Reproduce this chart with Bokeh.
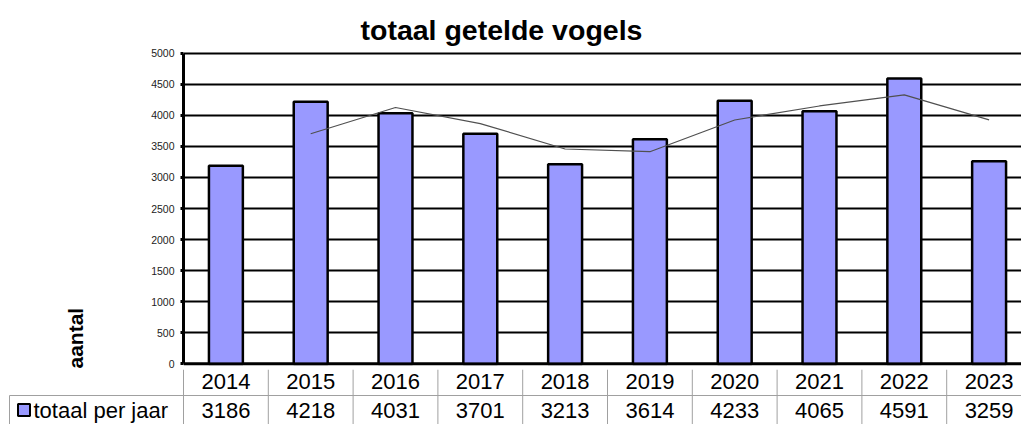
from bokeh.plotting import figure
from bokeh.models import Range1d, FixedTicker, Span, Title
from bokeh.embed import file_html
from bokeh.resources import INLINE
from bokeh.core.properties import value

# ---- data ----
years = ["2014", "2015", "2016", "2017", "2018", "2019", "2020", "2021", "2022", "2023"]
totals = [3186, 4218, 4031, 3701, 3213, 3614, 4233, 4065, 4591, 3259]
trend_years = ["2015", "2016", "2017", "2018", "2019", "2020", "2021", "2022", "2023"]
trend_values = [3702, 4124.5, 3866, 3457, 3413.5, 3923.5, 4149, 4328, 3925]
y_ticks = [0, 500, 1000, 1500, 2000, 2500, 3000, 3500, 4000, 4500, 5000]
title_text = "totaal getelde vogels"
y_label = "aantal"
series_label = "totaal per jaar"

# ---- style / layout ----
FONT = "Liberation Sans"
BAR = "#9999FF"
GRIDC = "#A0A0A0"
W = 1021
CAT_W = 84.8            # px per category
LEFT = 183              # px left of the plot area
TOP = 51
FRAME_BOTTOM = 365
BOTTOM_PAD = 4
H1 = FRAME_BOTTOM + BOTTOM_PAD
H2 = 424 - H1
ROW_H = 29
x_end = (W - LEFT) / CAT_W
y_lo, y_hi = -25, 5025

def px_to_x(px):           # page px -> x data units
    return (px - LEFT) / CAT_W

idx = {y: i for i, y in enumerate(years)}
xs = [idx[y] + 0.5 for y in years]
txs = [idx[y] + 0.5 for y in trend_years]

# ---- chart figure ----
p = figure(width=W, height=H1, output_backend="svg", toolbar_location=None,
           x_range=Range1d(0, x_end), y_range=Range1d(y_lo, y_hi),
           min_border_left=LEFT, min_border_right=0, min_border_top=TOP,
           min_border_bottom=BOTTOM_PAD, x_axis_location=None, outline_line_color=None,
           background_fill_color="white", border_fill_color="white")

p.title.text = title_text
p.title.align = "left"
p.title.offset = 360 - LEFT
p.title.text_font = FONT
p.title.text_font_size = "28.5px"
p.title.text_font_style = "bold"
p.title.text_color = "black"
p.title.standoff = 11

p.xgrid.visible = False
p.ygrid.grid_line_color = "black"
p.ygrid.grid_line_width = 2
p.ygrid.bounds = (0, 5000)

ax = p.yaxis[0]
ax.ticker = FixedTicker(ticks=y_ticks)
ax.bounds = (0, 5000)
ax.axis_line_width = 3
ax.axis_line_color = "black"
ax.major_tick_line_width = 3
ax.major_tick_line_color = "black"
ax.major_tick_out = 3
ax.major_tick_in = 0
ax.minor_tick_line_color = None
ax.major_label_standoff = 6
ax.major_label_text_font = FONT
ax.major_label_text_font_size = "10.5px"
ax.major_label_text_color = "#222222"

p.add_layout(Title(text=y_label, align="left", offset=-3, vertical_align="top",
                   standoff=120, text_font=FONT, text_font_size="21px",
                   text_font_style="bold", text_color="black"), "left")

p.vbar(x=xs, top=totals, bottom=0, width=0.4, fill_color=BAR,
       line_color="black", line_width=2.5)
p.line(x=txs, y=trend_values, line_color="#505050", line_width=1.2)
p.add_layout(Span(location=0, dimension="width", line_color="black", line_width=3))

# ---- data table figure ----
x0 = -LEFT / CAT_W
y_top = H2 / ROW_H
t = figure(width=W, height=H2, output_backend="svg", toolbar_location=None,
           x_range=Range1d(x0, x_end), y_range=Range1d(0, y_top),
           min_border=0, min_border_left=0, min_border_right=0,
           min_border_top=0, min_border_bottom=0,
           x_axis_location=None, y_axis_location=None, outline_line_color=None,
           background_fill_color="white", border_fill_color="white")
t.xgrid.visible = False
t.ygrid.visible = False

n = len(years)
cell_left = px_to_x(9)
vx = [float(k) for k in range(n + 1)]
t.segment(x0=vx, y0=[0] * len(vx), x1=vx, y1=[y_top] * len(vx), line_color=GRIDC, line_width=1)
t.segment(x0=[cell_left, cell_left], y0=[1, 0], x1=[x_end + 1, cell_left],
          y1=[1, 1], line_color=GRIDC, line_width=1)

t.text(x=xs, y=[1.5] * n, text=years, text_align="center", text_baseline="middle",
       text_font=value(FONT), text_font_size="22px", text_color="black")
t.text(x=xs, y=[0.5] * n, text=[str(v) for v in totals], text_align="center",
       text_baseline="middle", text_font=value(FONT), text_font_size="22px",
       text_color="black")
t.scatter(x=[px_to_x(23.5)], y=[0.5], marker="square", size=12, fill_color=BAR,
          line_color="black", line_width=2)
t.text(x=[px_to_x(33)], y=[0.5], text=[series_label], text_align="left",
       text_baseline="middle", text_font=value(FONT), text_font_size="22px",
       text_color="black")

open("out.html", "w").write(file_html([p, t], INLINE))
